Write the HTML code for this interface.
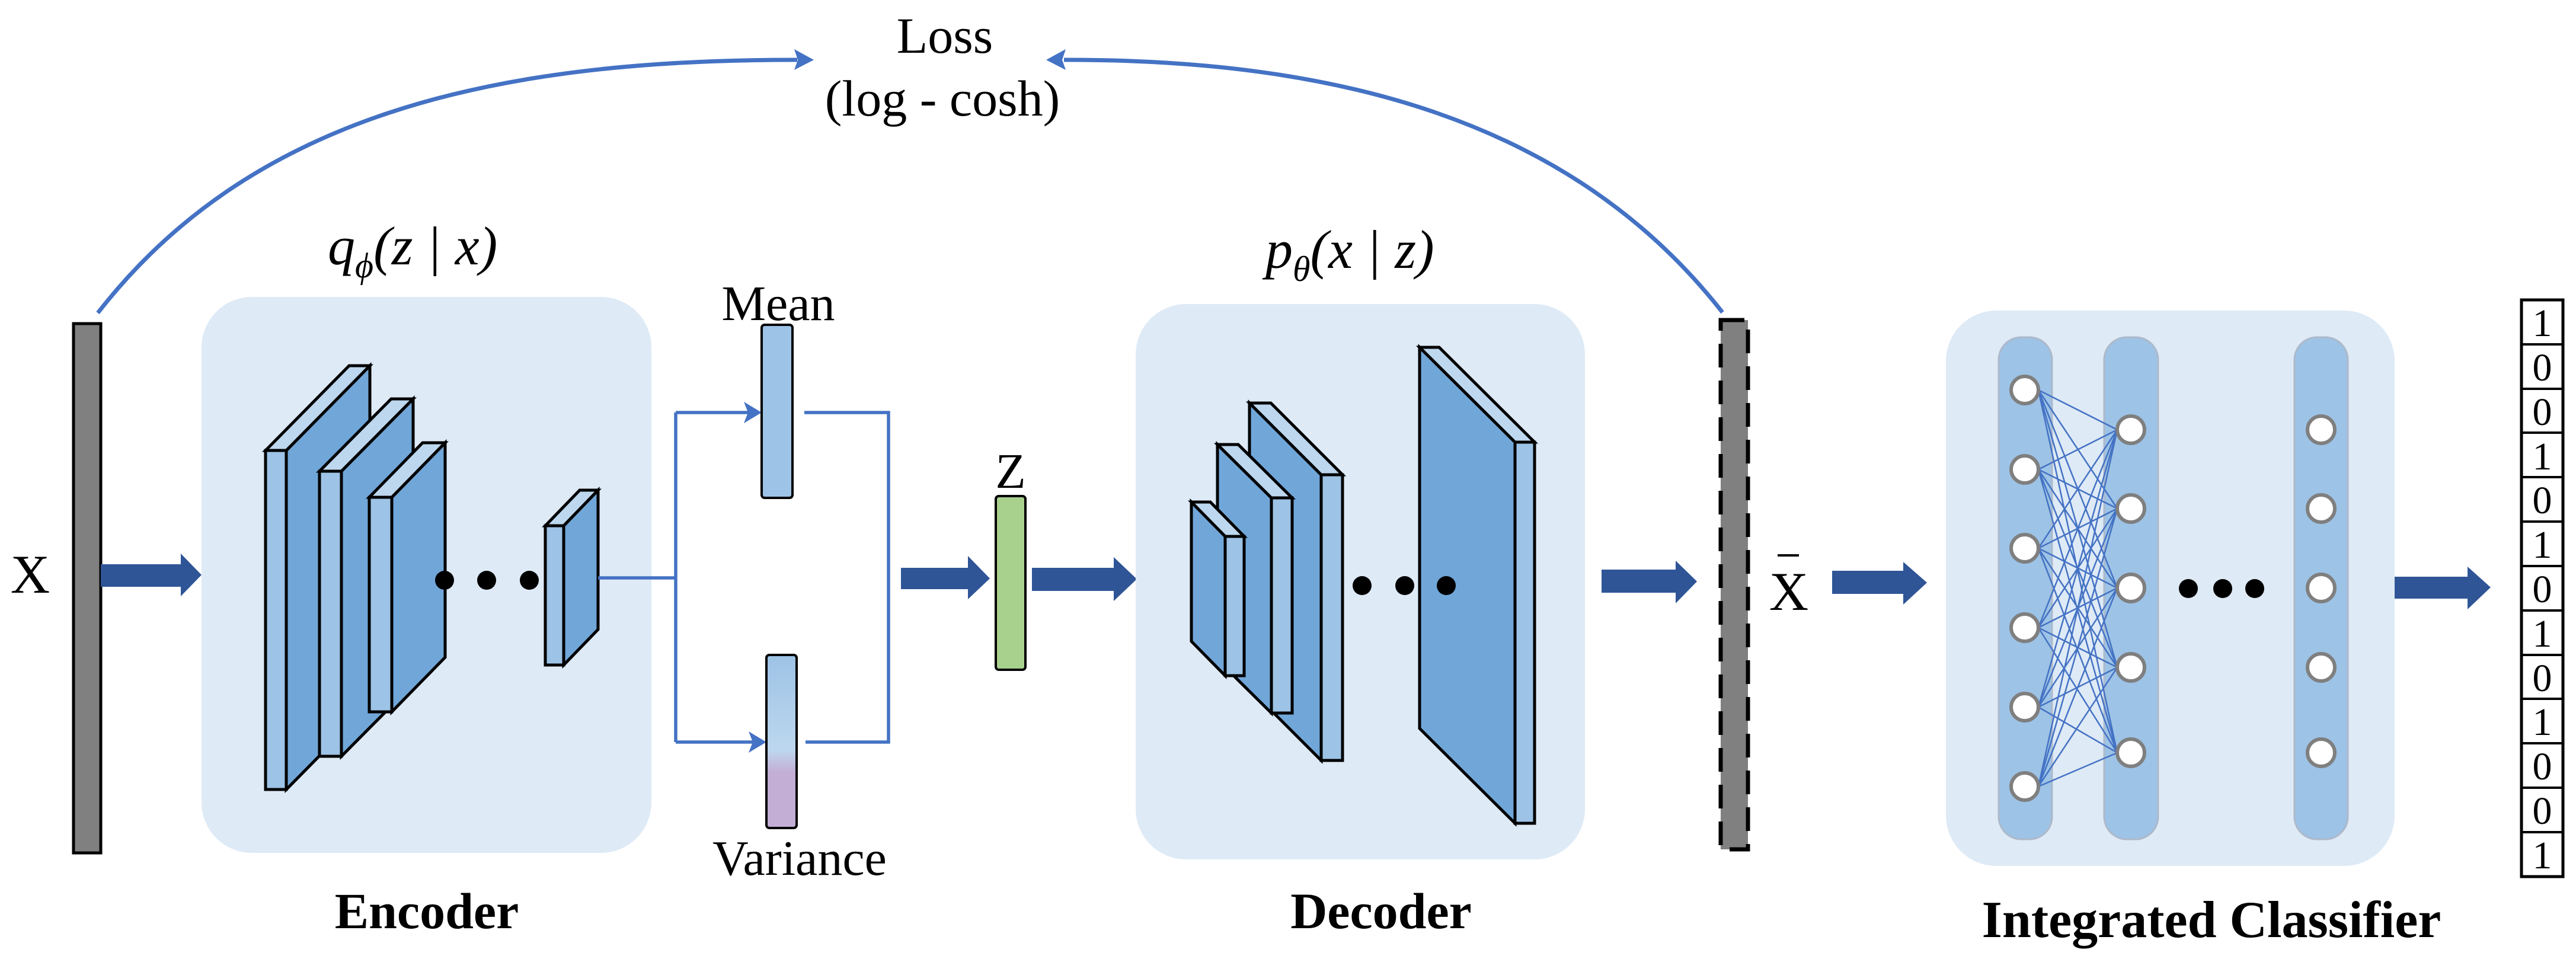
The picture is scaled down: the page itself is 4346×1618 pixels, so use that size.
<!DOCTYPE html>
<html><head><meta charset="utf-8"><style>
html,body{margin:0;padding:0;background:#fff;}
svg{display:block;}
text{font-family:"Liberation Serif",serif;fill:#000;}
</style></head><body>
<svg width="4346" height="1618" viewBox="0 0 4346 1618" xmlns="http://www.w3.org/2000/svg">
<defs>
<linearGradient id="vg" x1="0" y1="0" x2="0" y2="1">
<stop offset="0" stop-color="#9DC3E6"/><stop offset="0.55" stop-color="#BDD7EE"/><stop offset="0.68" stop-color="#C3AED6"/><stop offset="1" stop-color="#C3AED6"/>
</linearGradient>
</defs>
<!-- Loss curves -->
<path d="M165 528 C 420 200, 820 100, 1345 101" fill="none" stroke="#4472C4" stroke-width="7"/>
<polygon points="1373,101 1340,83 1346,101 1340,118" fill="#4472C4"/>
<path d="M2906 527 C 2650 200, 2250 100, 1795 101" fill="none" stroke="#4472C4" stroke-width="7"/>
<polygon points="1765,101 1798,83 1792,101 1798,118" fill="#4472C4"/>
<text x="1594" y="89" font-size="86" text-anchor="middle">Loss</text>
<text x="1590" y="195" font-size="86" text-anchor="middle">(log - cosh)</text>
<text x="553" y="446" font-size="92" font-style="italic" font-family="Liberation Serif, serif">q<tspan font-size="60" dy="22">ϕ</tspan><tspan dy="-22">(z | x)</tspan></text>
<text x="2135" y="452" font-size="92" font-style="italic" font-family="Liberation Serif, serif">p<tspan font-size="60" dy="22">θ</tspan><tspan dy="-22">(x | z)</tspan></text>

<!-- X bar -->
<rect x="124" y="546" width="46" height="893" fill="#808080" stroke="#000" stroke-width="5"/>
<text x="51" y="1000" font-size="92" text-anchor="middle">X</text>
<polygon points="170,952 305,952 305,934 340,970 305,1006 305,990 170,990" fill="#2F5597"/>

<!-- Encoder -->
<rect x="340" y="501" width="759" height="938" rx="85" fill="#DEEAF6"/>
<g stroke="#000" stroke-width="5" stroke-linejoin="miter">
<polygon points="483,760 624,617 624,1189 483,1332" fill="#71A6D8"/>
<polygon points="448,760 589,617 624,617 483,760" fill="#BDD7EE"/>
<rect x="448" y="760" width="35" height="572" fill="#9DC3E6"/>
<polygon points="576,795 697,673 697,1154 576,1276" fill="#71A6D8"/>
<polygon points="539,795 660,673 697,673 576,795" fill="#BDD7EE"/>
<rect x="539" y="795" width="37" height="481" fill="#9DC3E6"/>
<polygon points="661,839 751,747 751,1109 661,1201" fill="#71A6D8"/>
<polygon points="623,839 713,747 751,747 661,839" fill="#BDD7EE"/>
<rect x="623" y="839" width="38" height="362" fill="#9DC3E6"/>
<polygon points="951,887 1009,827 1009,1062 951,1122" fill="#71A6D8"/>
<polygon points="920,887 978,827 1009,827 951,887" fill="#BDD7EE"/>
<rect x="920" y="887" width="31" height="235" fill="#9DC3E6"/>
</g>
<circle cx="750" cy="979" r="16"/><circle cx="821" cy="979" r="16"/><circle cx="893" cy="979" r="16"/>
<text x="720" y="1566" font-size="86" font-weight="bold" text-anchor="middle">Encoder</text>

<!-- Mean/Variance -->
<g fill="none" stroke="#4472C4" stroke-width="5.5">
<path d="M1009 975 H1140 M1140 696 V1252 M1140 696 H1262 M1140 1252 H1270 M1357 696 H1499 V1252 H1359"/>
</g>
<polygon points="1285,696 1255,678 1262,696 1255,714" fill="#4472C4"/>
<polygon points="1293,1252 1263,1234 1270,1252 1263,1270" fill="#4472C4"/>
<rect x="1285" y="548" width="52" height="292" rx="5" fill="#9DC3E6" stroke="#000" stroke-width="4"/>
<rect x="1293" y="1105" width="51" height="292" rx="5" fill="url(#vg)" stroke="#000" stroke-width="4"/>
<text x="1313" y="540" font-size="84" text-anchor="middle">Mean</text>
<text x="1349" y="1476" font-size="84" text-anchor="middle">Variance</text>

<!-- to Z -->
<polygon points="1520,958 1633,958 1633,938 1670,976 1633,1011 1633,994 1520,994" fill="#2F5597"/>
<rect x="1680" y="837" width="50" height="293" rx="5" fill="#A9D18E" stroke="#000" stroke-width="4"/>
<text x="1705" y="823" font-size="84" text-anchor="middle">Z</text>
<polygon points="1741,958 1879,958 1879,940 1918,977 1879,1014 1879,997 1741,997" fill="#2F5597"/>

<!-- Decoder -->
<rect x="1916" y="513" width="758" height="937" rx="85" fill="#DEEAF6"/>
<g stroke="#000" stroke-width="5">
<polygon points="2108,680 2229,801 2229,1283 2108,1162" fill="#71A6D8"/>
<polygon points="2108,680 2144,680 2265,801 2229,801" fill="#BDD7EE"/>
<rect x="2229" y="801" width="36" height="482" fill="#9DC3E6"/>
<polygon points="2054,750 2145,840 2145,1203 2054,1113" fill="#71A6D8"/>
<polygon points="2054,750 2089,750 2180,840 2145,840" fill="#BDD7EE"/>
<rect x="2145" y="840" width="35" height="363" fill="#9DC3E6"/>
<polygon points="2010,847 2067,905 2067,1140 2010,1082" fill="#71A6D8"/>
<polygon points="2010,847 2042,847 2099,905 2067,905" fill="#BDD7EE"/>
<rect x="2067" y="905" width="32" height="235" fill="#9DC3E6"/>
<polygon points="2395,586 2556,746 2556,1389 2395,1229" fill="#71A6D8"/>
<polygon points="2395,586 2428,586 2589,746 2556,746" fill="#BDD7EE"/>
<rect x="2556" y="746" width="33" height="643" fill="#9DC3E6"/>
</g>
<circle cx="2298" cy="988" r="16"/><circle cx="2370" cy="988" r="16"/><circle cx="2440" cy="988" r="16"/>
<text x="2330" y="1566" font-size="86" font-weight="bold" text-anchor="middle">Decoder</text>

<polygon points="2702,961 2827,961 2827,946 2863,981 2827,1018 2827,1000 2702,1000" fill="#2F5597"/>
<rect x="2903" y="540" width="46" height="893" fill="#808080"/>
<rect x="2903" y="540" width="46" height="893" fill="none" stroke="#000" stroke-width="7" stroke-dasharray="40,22"/>
<text x="3018" y="1029" font-size="92" text-anchor="middle">X</text>
<rect x="2999" y="935" width="36" height="4" fill="#000"/>
<polygon points="3091,963 3211,963 3211,948 3251,983 3211,1020 3211,1002 3091,1002" fill="#2F5597"/>

<!-- Classifier -->
<rect x="3283" y="524" width="757" height="937" rx="85" fill="#DEEAF6"/>
<g fill="#9DC3E6" stroke="#ADB9CA" stroke-width="3">
<rect x="3372" y="569" width="90" height="847" rx="38"/>
<rect x="3550" y="569" width="91" height="847" rx="38"/>
<rect x="3871" y="569" width="90" height="847" rx="38"/>
</g>
<g stroke="#4472C4" stroke-width="2.5">
<path d="M3439 658 L3572 725 M3439 658 L3572 858 M3439 658 L3572 992 M3439 658 L3572 1126 M3439 658 L3572 1270
M3439 792 L3572 725 M3439 792 L3572 858 M3439 792 L3572 992 M3439 792 L3572 1126 M3439 792 L3572 1270
M3439 925 L3572 725 M3439 925 L3572 858 M3439 925 L3572 992 M3439 925 L3572 1126 M3439 925 L3572 1270
M3439 1059 L3572 725 M3439 1059 L3572 858 M3439 1059 L3572 992 M3439 1059 L3572 1126 M3439 1059 L3572 1270
M3439 1193 L3572 725 M3439 1193 L3572 858 M3439 1193 L3572 992 M3439 1193 L3572 1126 M3439 1193 L3572 1270
M3439 1327 L3572 725 M3439 1327 L3572 858 M3439 1327 L3572 992 M3439 1327 L3572 1126 M3439 1327 L3572 1270"/>
</g>
<g fill="#fff" stroke="#7F7F7F" stroke-width="6">
<circle cx="3416" cy="658" r="23"/><circle cx="3416" cy="792" r="23"/><circle cx="3416" cy="925" r="23"/>
<circle cx="3416" cy="1059" r="23"/><circle cx="3416" cy="1193" r="23"/><circle cx="3416" cy="1327" r="23"/>
<circle cx="3595" cy="725" r="23"/><circle cx="3595" cy="858" r="23"/><circle cx="3595" cy="992" r="23"/>
<circle cx="3595" cy="1126" r="23"/><circle cx="3595" cy="1270" r="23"/>
<circle cx="3916" cy="725" r="23"/><circle cx="3916" cy="858" r="23"/><circle cx="3916" cy="992" r="23"/>
<circle cx="3916" cy="1126" r="23"/><circle cx="3916" cy="1270" r="23"/>
</g>
<circle cx="3692" cy="993" r="16"/><circle cx="3750" cy="993" r="16"/><circle cx="3804" cy="993" r="16"/>
<text x="3731" y="1581" font-size="88" font-weight="bold" text-anchor="middle">Integrated Classifier</text>
<polygon points="4040,973 4163,973 4163,956 4202,991 4163,1028 4163,1010 4040,1010" fill="#2F5597"/>

<!-- Output vector -->
<rect x="4254" y="506" width="70" height="973" fill="#fff" stroke="#000" stroke-width="5"/>
<g stroke="#000" stroke-width="4">
<path d="M4254 581 H4324 M4254 656 H4324 M4254 730 H4324 M4254 805 H4324 M4254 880 H4324 M4254 955 H4324 M4254 1030 H4324 M4254 1105 H4324 M4254 1179 H4324 M4254 1254 H4324 M4254 1329 H4324 M4254 1404 H4324"/>
</g>
<g font-size="66" text-anchor="middle">
<text x="4289" y="567">1</text><text x="4289" y="642">0</text><text x="4289" y="717">0</text>
<text x="4289" y="792">1</text><text x="4289" y="866">0</text><text x="4289" y="941">1</text>
<text x="4289" y="1016">0</text><text x="4289" y="1091">1</text><text x="4289" y="1166">0</text>
<text x="4289" y="1240">1</text><text x="4289" y="1315">0</text><text x="4289" y="1390">0</text>
<text x="4289" y="1465">1</text>
</g>
</svg>
</body></html>
